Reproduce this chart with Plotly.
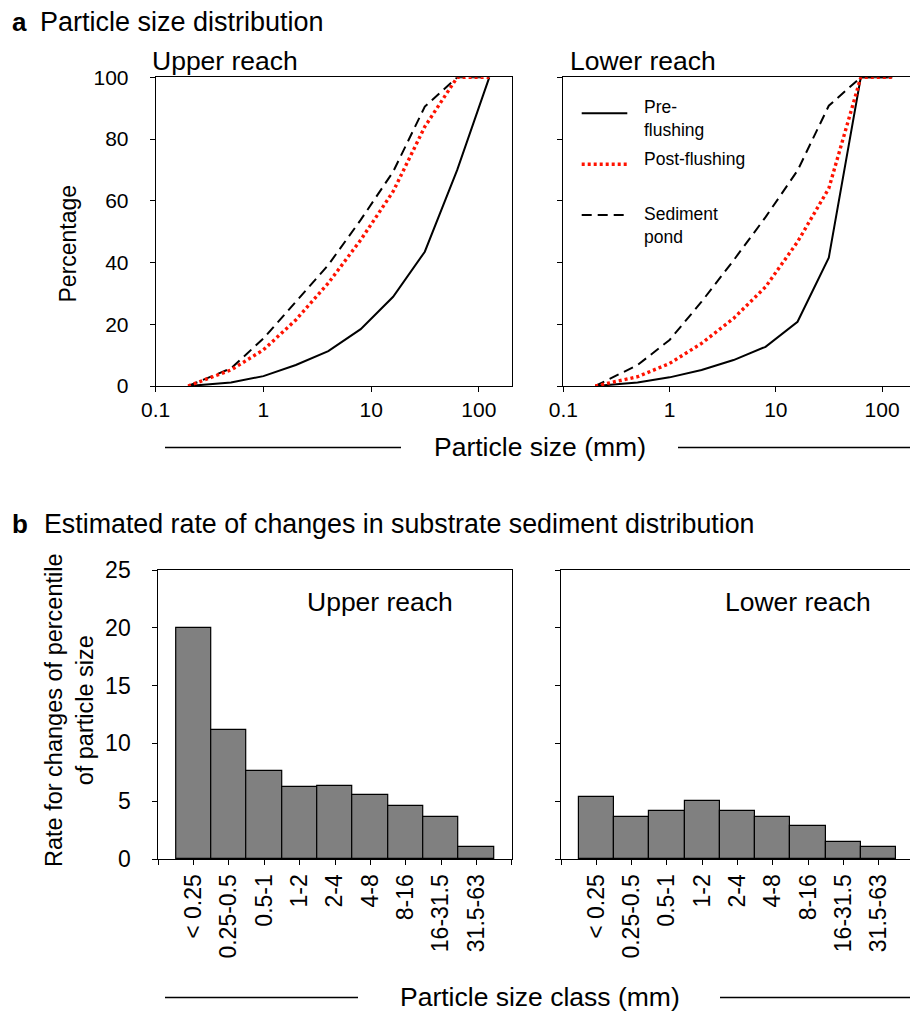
import plotly.graph_objects as go

# ---------------- data ----------------
size_mm = [0.2, 0.5, 1, 2, 4, 8, 16, 31.5, 63, 125]

upper_pre = [0, 1.1, 3.2, 6.8, 11.3, 18.4, 28.9, 43.5, 70, 100]
upper_post = [0, 5.2, 11.7, 21.4, 33.3, 47.3, 63, 84, 100, 100]
upper_pond = [0, 5.7, 15.4, 27.3, 39.2, 53.8, 69.4, 90.5, 100, 100]

lower_pre = [0, 1.1, 2.8, 5.2, 8.4, 12.7, 20.8, 41.6, 100, 100]
lower_post = [0, 3.0, 7.3, 13.8, 21.9, 32.1, 46.7, 64.0, 100, 100]
lower_pond = [0, 6.8, 14.9, 27.3, 40.7, 54.7, 69.8, 90.8, 100, 100]

size_classes = ["< 0.25", "0.25-0.5", "0.5-1", "1-2", "2-4", "4-8", "8-16", "16-31.5", "31.5-63"]
upper_rate = [20.0, 11.2, 7.6, 6.25, 6.35, 5.5, 4.6, 3.6, 1.07]
lower_rate = [5.38, 3.64, 4.19, 5.03, 4.13, 3.61, 2.83, 1.47, 1.0]

log_ticks = [0.1, 1, 10, 100]
log_tick_text = ["0.1", "1", "10", "100"]
pct_ticks = [0, 20, 40, 60, 80, 100]
rate_ticks = [0, 5, 10, 15, 20, 25]

# ---------------- layout helpers ----------------
# the page body has an 8px default margin, so the figure is sized to fit the
# 918x1012 window and positions below are given in window pixels
OFF = 8
W, H = 918 - OFF, 1012 - OFF
FONT = "Liberation Sans, Arial, Helvetica, sans-serif"


def X(px):
    return (px - OFF) / W


def Y(py):
    return 1 - (py - OFF) / H


fig = go.Figure()

# ---------------- panel a ----------------
line_pre = dict(color="black", width=2)
line_post = dict(color="#ff1200", width=3.4, dash="3px,3px")
line_pond = dict(color="black", width=2, dash="10px,6px")

for xa, ya, pre, post, pond in [("x", "y", upper_pre, upper_post, upper_pond),
                                ("x2", "y2", lower_pre, lower_post, lower_pond)]:
    fig.add_trace(go.Scatter(x=size_mm, y=pond, mode="lines", line=line_pond,
                             xaxis=xa, yaxis=ya, showlegend=False, name="Sediment pond"))
    fig.add_trace(go.Scatter(x=size_mm, y=pre, mode="lines", line=line_pre,
                             xaxis=xa, yaxis=ya, showlegend=False, name="Pre-flushing"))
    fig.add_trace(go.Scatter(x=size_mm, y=post, mode="lines", line=line_post,
                             xaxis=xa, yaxis=ya, showlegend=False, name="Post-flushing"))

# ---------------- panel b ----------------
idx = list(range(len(size_classes)))
for xa, ya, vals in [("x3", "y3", upper_rate), ("x4", "y4", lower_rate)]:
    fig.add_trace(go.Bar(x=idx, y=vals, width=1, xaxis=xa, yaxis=ya,
                         marker=dict(color="#808080", line=dict(color="black", width=1.2)),
                         showlegend=False))

tick_font_a = dict(family=FONT, size=21, color="black")
tick_font_b = dict(family=FONT, size=23, color="black")

common_axis = dict(showline=True, linecolor="black", linewidth=1, mirror=True,
                   ticks="outside", ticklen=5, tickwidth=1, tickcolor="black",
                   showgrid=False, zeroline=False, automargin=False)

yA = [Y(386), Y(77.3)]
yB = [Y(859), Y(570)]

bar_tickvals = [-1] + idx + [len(size_classes)]
bar_ticktext = [""] + size_classes + [""]

fig.update_layout(
    template="none",
    width=W, height=H, autosize=False,
    margin=dict(l=0, r=0, t=0, b=0, pad=0, autoexpand=False),
    paper_bgcolor="white", plot_bgcolor="white",
    font=dict(family=FONT, color="black"),
    bargap=0,
    xaxis=dict(domain=[X(155.7), X(511.7)], type="log", range=[-1, 2.305],
               tickvals=log_ticks, ticktext=log_tick_text, anchor="y",
               tickfont=tick_font_a, **common_axis),
    yaxis=dict(domain=yA, range=[0, 100], tickvals=pct_ticks, anchor="x",
               ticklabelstandoff=17, tickfont=tick_font_a, **common_axis),
    xaxis2=dict(domain=[X(563.3), X(914)], type="log", range=[-1, 2.3],
                tickvals=log_ticks, ticktext=log_tick_text, anchor="y2",
                tickfont=tick_font_a, **common_axis),
    yaxis2=dict(domain=yA, range=[0, 100], tickvals=pct_ticks, showticklabels=False,
                anchor="x2", **common_axis),
    xaxis3=dict(domain=[X(158.3), X(511.7)], range=[-1, len(size_classes)],
                tickvals=bar_tickvals, ticktext=bar_ticktext, tickangle=-90,
                anchor="y3", tickfont=tick_font_b, **common_axis),
    yaxis3=dict(domain=yB, range=[0, 25], tickvals=rate_ticks, anchor="x3",
                ticklabelstandoff=17, tickfont=tick_font_b, **common_axis),
    xaxis4=dict(domain=[X(561), X(914)], range=[-1, len(size_classes)],
                tickvals=bar_tickvals, ticktext=bar_ticktext, tickangle=-90,
                anchor="y4", tickfont=tick_font_b, **common_axis),
    yaxis4=dict(domain=yB, range=[0, 25], tickvals=rate_ticks, showticklabels=False,
                anchor="x4", **common_axis),
)

# ---------------- annotations ----------------
ann = []


def add_text(text, px, py, size, xanchor="left", yanchor="middle", angle=0, align="center"):
    ann.append(dict(text=text, x=X(px), y=Y(py), xref="paper", yref="paper",
                    xanchor=xanchor, yanchor=yanchor, showarrow=False, textangle=angle,
                    align=align, font=dict(family=FONT, size=size, color="black")))


add_text("<b>a</b>", 10, 22, 26)
add_text("Particle size distribution", 38, 22, 27)
add_text("Upper reach", 150, 61, 26.5)
add_text("Lower reach", 568, 61, 26.5)
add_text("Percentage", 67.5, 244, 23, xanchor="center", angle=-90)
add_text("Particle size (mm)", 540, 447, 26.5, xanchor="center")

add_text("<b>b</b>", 10, 524, 26)
add_text("Estimated rate of changes in substrate sediment distribution", 42, 524, 26.8)
add_text("Upper reach", 380, 601.5, 26.5, xanchor="center")
add_text("Lower reach", 797.5, 601.5, 26.5, xanchor="center")
add_text("Rate for changes of percentile<br>of particle size", 69, 710, 23.5,
         xanchor="center", angle=-90)
add_text("Particle size class (mm)", 540, 997, 26.5, xanchor="center")

# legend texts (lower reach, panel a)
add_text("Pre-<br>flushing", 642, 118, 17.5, align="left")
add_text("Post-flushing", 642, 159.5, 17.5, align="left")
add_text("Sediment<br>pond", 642, 225, 17.5, align="left")

fig.update_layout(annotations=ann)

# ---------------- shapes: decorative lines & legend samples ----------------
shapes = []


def hline(x0, x1, py, line):
    shapes.append(dict(type="line", xref="paper", yref="paper",
                       x0=X(x0), x1=X(x1), y0=Y(py), y1=Y(py), line=line))


rule = dict(color="black", width=1.3)
hline(165, 401, 447.5, rule)
hline(678, 913, 447.5, rule)
hline(165, 358, 997.5, rule)
hline(720, 913, 997.5, rule)

hline(581.7, 627.3, 113.3, line_pre)
hline(581.7, 627.3, 164.3, line_post)
hline(581.7, 627.3, 215, line_pond)

fig.update_layout(shapes=shapes)

fig.write_html("out.html")
